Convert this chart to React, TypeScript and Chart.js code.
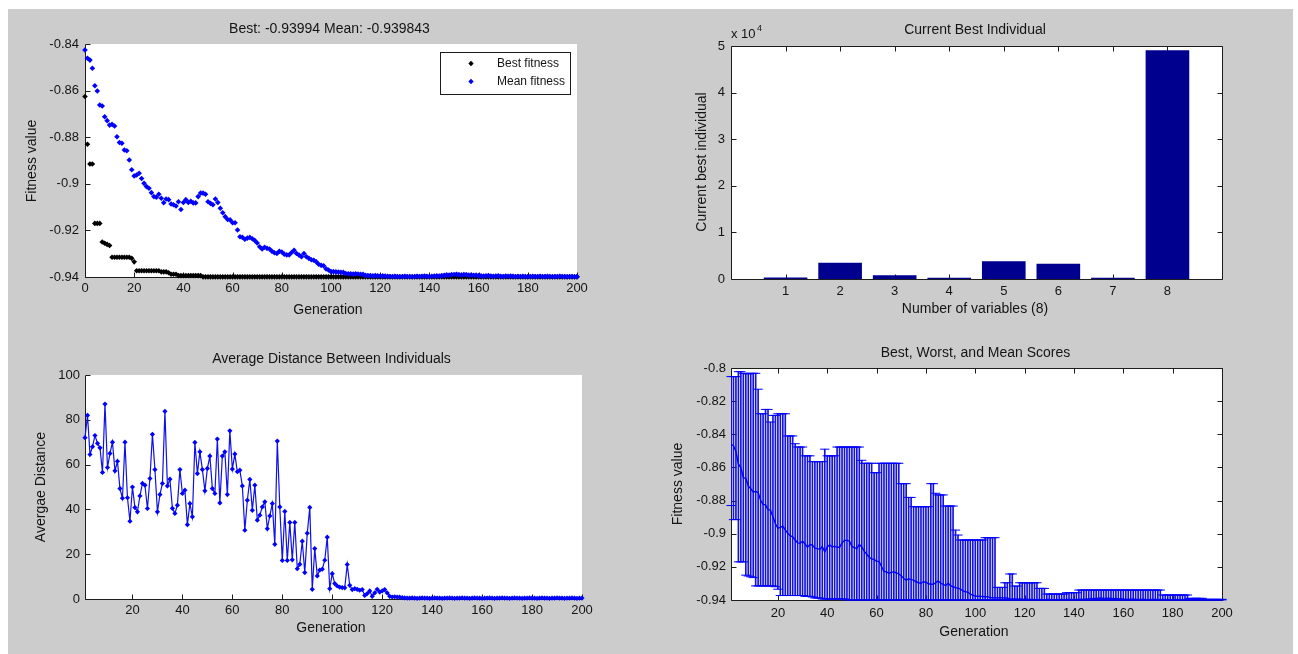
import React, { useEffect, useRef } from 'react';
import { Chart, registerables } from 'chart.js';

Chart.register(...registerables);

const W = 1298;
const H = 654;
const FONT = "'Liberation Sans', Arial, Helvetica, sans-serif";
const TEXT_COLOR = '#141414';
const AXIS_COLOR = '#1c1c1c';
const BLUE = '#0000ff';
const NAVY = '#00008f';
const FIG_BG = '#cccccc';
const Y_AXIS_W = 60;
const X_AXIS_H = 26;
const TICK_LEN = 5;

// ---------------- data ----------------
// Best fitness per generation (generation 0 .. 200)
const bestFitness = [
  -0.8625, -0.883, -0.8915, -0.8915, -0.917, -0.917, -0.917, -0.925, -0.9255, -0.926,
  -0.9265, -0.9315, -0.9315, -0.9315, -0.9315, -0.9315, -0.9315, -0.9315, -0.9315, -0.932,
  -0.9335, -0.9373, -0.9373, -0.9373, -0.9373, -0.9373, -0.9373, -0.9373, -0.9373, -0.9373,
  -0.9373, -0.9378, -0.9378, -0.9378, -0.9382, -0.9388, -0.9388, -0.9388, -0.9394, -0.9394,
  -0.9394, -0.9394, -0.9394, -0.9394, -0.9394, -0.9394, -0.9394, -0.9394, -0.93994, -0.93994,
  -0.93994, -0.93994, -0.93994, -0.93994, -0.93994, -0.93994, -0.93994, -0.93994, -0.93994, -0.93994,
  -0.93994, -0.93994, -0.93994, -0.93994, -0.93994, -0.93994, -0.93994, -0.93994, -0.93994, -0.93994,
  -0.93994, -0.93994, -0.93994, -0.93994, -0.93994, -0.93994, -0.93994, -0.93994, -0.93994, -0.93994,
  -0.93994, -0.93994, -0.93994, -0.93994, -0.93994, -0.93994, -0.93994, -0.93994, -0.93994, -0.93994,
  -0.93994, -0.93994, -0.93994, -0.93994, -0.93994, -0.93994, -0.93994, -0.93994, -0.93994, -0.93994,
  -0.93994, -0.93994, -0.93994, -0.93994, -0.93994, -0.93994, -0.93994, -0.93994, -0.93994, -0.93994,
  -0.93994, -0.93994, -0.93994, -0.93994, -0.93994, -0.93994, -0.93994, -0.93994, -0.93994, -0.93994,
  -0.93994, -0.93994, -0.93994, -0.93994, -0.93994, -0.93994, -0.93994, -0.93994, -0.93994, -0.93994,
  -0.93994, -0.93994, -0.93994, -0.93994, -0.93994, -0.93994, -0.93994, -0.93994, -0.93994, -0.93994,
  -0.93994, -0.93994, -0.93994, -0.93994, -0.93994, -0.93994, -0.93994, -0.93994, -0.93994, -0.93994,
  -0.93994, -0.93994, -0.93994, -0.93994, -0.93994, -0.93994, -0.93994, -0.93994, -0.93994, -0.93994,
  -0.93994, -0.93994, -0.93994, -0.93994, -0.93994, -0.93994, -0.93994, -0.93994, -0.93994, -0.93994,
  -0.93994, -0.93994, -0.93994, -0.93994, -0.93994, -0.93994, -0.93994, -0.93994, -0.93994, -0.93994,
  -0.93994, -0.93994, -0.93994, -0.93994, -0.93994, -0.93994, -0.93994, -0.93994, -0.93994, -0.93994,
  -0.93994, -0.93994, -0.93994, -0.93994, -0.93994, -0.93994, -0.93994, -0.93994, -0.93994, -0.93994,
  -0.93994,
];

// Mean fitness per generation (generation 0 .. 200)
const meanFitness = [
  -0.8426, -0.8461, -0.8469, -0.8504, -0.8579, -0.8602, -0.8662, -0.8666, -0.8712, -0.8729,
  -0.8748, -0.8745, -0.8752, -0.8798, -0.8823, -0.8826, -0.8855, -0.8858, -0.8898, -0.894,
  -0.8966, -0.8962, -0.8955, -0.8977, -0.8998, -0.9012, -0.9019, -0.9038, -0.9055, -0.9058,
  -0.9045, -0.9062, -0.9081, -0.9065, -0.9068, -0.9087, -0.909, -0.9095, -0.9077, -0.911,
  -0.908, -0.9068, -0.908, -0.9075, -0.9082, -0.9082, -0.9055, -0.904, -0.904, -0.9045,
  -0.9077, -0.9084, -0.909, -0.9065, -0.908, -0.9105, -0.9124, -0.9141, -0.9153, -0.9155,
  -0.9167, -0.9167, -0.9198, -0.9227, -0.923, -0.9238, -0.9233, -0.923, -0.9236, -0.9243,
  -0.9254, -0.927, -0.928, -0.9272, -0.9277, -0.928, -0.929, -0.9296, -0.9299, -0.929,
  -0.9293, -0.9302, -0.9305, -0.9305, -0.9295, -0.9285, -0.9299, -0.9306, -0.9313, -0.9299,
  -0.9313, -0.932, -0.9326, -0.9328, -0.9335, -0.9345, -0.935, -0.9352, -0.9365, -0.937,
  -0.9377, -0.9377, -0.9378, -0.9379, -0.938, -0.938, -0.9385, -0.9386, -0.9386, -0.9387,
  -0.9386, -0.9387, -0.9388, -0.9388, -0.9393, -0.9394, -0.9394, -0.9395, -0.9394, -0.9395,
  -0.9396, -0.9395, -0.9396, -0.9397, -0.9398, -0.9398, -0.9397, -0.9398, -0.9399, -0.9398,
  -0.9397, -0.9398, -0.9398, -0.9399, -0.9398, -0.9397, -0.9398, -0.9397, -0.9396, -0.9397,
  -0.9398, -0.9397, -0.9396, -0.9395, -0.9396, -0.9394, -0.9393, -0.9391, -0.9392, -0.939,
  -0.9389, -0.9388, -0.939, -0.9391, -0.9389, -0.939, -0.9392, -0.9391, -0.9393, -0.9392,
  -0.9394, -0.9395, -0.9396, -0.9395, -0.9394, -0.9396, -0.9397, -0.9396, -0.9395, -0.9397,
  -0.9398, -0.9396, -0.9397, -0.9396, -0.9397, -0.9398, -0.9397, -0.9398, -0.9397, -0.9398,
  -0.9399, -0.9398, -0.9397, -0.9398, -0.9398, -0.9397, -0.9398, -0.9398, -0.9397, -0.9398,
  -0.9399, -0.9398, -0.9398, -0.9397, -0.9398, -0.9398, -0.9399, -0.9398, -0.9398, -0.9399,
  -0.939843,
];

// Average distance between individuals (generation 1 .. 200)
const avgDistance = [
  72, 82, 64.5, 68, 73, 69.5, 67.5, 56.5, 87, 58.7,
  65, 70, 57.2, 61.5, 49.3, 45, 70, 45.2, 34.7, 50,
  40.8, 38.9, 46, 51.6, 50.8, 40.4, 53.8, 73.5, 57.8, 38.9,
  46.6, 51.6, 83.8, 50.5, 53.5, 40.5, 38.2, 41.9, 57.8, 47.1,
  48.6, 33.2, 42.6, 36.7, 69.9, 56, 65.7, 57.8, 48.3, 58.3,
  63.8, 49.3, 47.1, 71.4, 42.9, 63.8, 65.7, 46.6, 75.1, 58,
  64.7, 56.8, 57.5, 50.5, 30.7, 44.1, 53.4, 39.6, 50.8, 35.2,
  37.4, 41.1, 43.4, 31.4, 37.1, 42.6, 24.4, 70.5, 41.1, 17.2,
  39.1, 17.2, 34.2, 17.5, 34.2, 13.5, 15.5, 25.8, 11.8, 29.4,
  40.9, 4.3, 22.5, 10.3, 12.9, 13.3, 17.3, 27.6, 4.6, 11.3,
  6.9, 5.8, 5.3, 5.1, 5.0, 15.4, 6.1, 4.2, 4.6, 4.3,
  3.9, 4.2, 1.6, 2.4, 3.6, 1.2, 2.7, 4.3, 3.1, 3.6,
  4.2, 2.7, 1.2, 0.9, 1.0, 0.9, 0.8, 0.6, 0.5, 0.4,
  0.4, 0.5, 0.4, 0.3, 0.4, 0.5, 0.4, 0.4, 0.3, 0.4,
  0.5, 0.4, 0.4, 0.3, 0.4, 0.4, 0.5, 0.4, 0.3, 0.4,
  0.4, 0.5, 0.4, 0.4, 0.3, 0.4, 0.5, 0.4, 0.4, 0.3,
  0.4, 0.4, 0.5, 0.4, 0.3, 0.4, 0.4, 0.5, 0.4, 0.4,
  0.3, 0.4, 0.5, 0.4, 0.4, 0.3, 0.4, 0.4, 0.5, 0.4,
  0.4, 0.3, 0.4, 0.5, 0.4, 0.4, 0.3, 0.4, 0.4, 0.5,
  0.4, 0.4, 0.3, 0.4, 0.4, 0.5, 0.4, 0.3, 0.4, 0.4,
];

// Worst score per generation (generation 1 .. 200)
const worstScores = [
  -0.8052, -0.8052, -0.8052, -0.8022, -0.8022, -0.8032, -0.8032, -0.8036, -0.8032, -0.8032,
  -0.8032, -0.8128, -0.8276, -0.8276, -0.825, -0.825, -0.8326, -0.8286, -0.8286, -0.8276,
  -0.8276, -0.8276, -0.8276, -0.841, -0.841, -0.841, -0.8457, -0.8477, -0.8477, -0.8477,
  -0.853, -0.853, -0.853, -0.8565, -0.8565, -0.8565, -0.8565, -0.8565, -0.849, -0.853,
  -0.853, -0.853, -0.853, -0.8477, -0.8477, -0.8477, -0.8477, -0.8477, -0.8477, -0.8477,
  -0.8477, -0.8477, -0.8477, -0.8557, -0.8575, -0.8575, -0.8575, -0.8575, -0.8632, -0.8632,
  -0.8575, -0.8575, -0.8575, -0.8575, -0.8575, -0.8575, -0.8575, -0.8575, -0.8575, -0.8698,
  -0.8698, -0.8698, -0.8781, -0.8781, -0.8837, -0.8837, -0.8837, -0.8837, -0.8837, -0.8837,
  -0.8837, -0.8698, -0.8698, -0.8756, -0.8766, -0.8766, -0.8766, -0.8833, -0.8833, -0.8833,
  -0.8833, -0.8978, -0.9008, -0.9038, -0.9038, -0.9038, -0.9038, -0.9038, -0.9038, -0.9038,
  -0.9038, -0.9038, -0.9038, -0.9024, -0.9024, -0.9024, -0.9024, -0.9024, -0.9324, -0.9324,
  -0.9324, -0.9296, -0.9296, -0.9243, -0.9243, -0.9316, -0.9316, -0.9296, -0.9296, -0.9296,
  -0.9296, -0.9296, -0.9296, -0.9296, -0.9296, -0.933, -0.933, -0.933, -0.9364, -0.9364,
  -0.9364, -0.9364, -0.9364, -0.9364, -0.9364, -0.9364, -0.9356, -0.9356, -0.9356, -0.9356,
  -0.9356, -0.934, -0.934, -0.934, -0.934, -0.934, -0.934, -0.934, -0.934, -0.934,
  -0.934, -0.934, -0.934, -0.934, -0.934, -0.934, -0.934, -0.934, -0.934, -0.934,
  -0.934, -0.934, -0.934, -0.934, -0.934, -0.934, -0.934, -0.934, -0.934, -0.934,
  -0.934, -0.934, -0.934, -0.934, -0.934, -0.937, -0.937, -0.937, -0.937, -0.937,
  -0.937, -0.937, -0.937, -0.937, -0.937, -0.937, -0.939, -0.939, -0.939, -0.939,
  -0.939, -0.939, -0.9396, -0.9396, -0.9396, -0.9396, -0.9396, -0.9396, -0.9396, -0.9396,
];

// Current best individual
const variableNumbers = [1, 2, 3, 4, 5, 6, 7, 8];
const currentBestIndividual = [300, 3500, 790, 260, 3790, 3290, 280, 49070];

// Tick values
const generationTicksTop = [0, 20, 40, 60, 80, 100, 120, 140, 160, 180, 200];
const generationTicks = [20, 40, 60, 80, 100, 120, 140, 160, 180, 200];
const fitnessTicksTop = [-0.94, -0.92, -0.9, -0.88, -0.86, -0.84];
const scoreTicks = [-0.94, -0.92, -0.9, -0.88, -0.86, -0.84, -0.82, -0.8];
const distanceTicks = [0, 20, 40, 60, 80, 100];
const individualTicks = [0, 10000, 20000, 30000, 40000, 50000];

// ---------------- helpers ----------------
const fmtNum = (v: number) => String(Number(Number(v).toFixed(4)));
const fmtExp4 = (v: number) => String(Number((Number(v) / 10000).toFixed(4)));

type Area = { left: number; top: number; right: number; bottom: number };

function linAxis(min: number, max: number, ticks: number[], fmt: (v: number) => string, isX: boolean, pad: number) {
  return {
    type: 'linear',
    min,
    max,
    offset: false,
    beginAtZero: false,
    grid: { display: false, drawTicks: false },
    border: { display: false },
    ticks: {
      color: TEXT_COLOR,
      font: { family: FONT, size: 13 },
      padding: pad,
      autoSkip: false,
      maxRotation: 0,
      minRotation: 0,
      callback: (v: any) => fmt(Number(v)),
    },
    afterBuildTicks: (s: any) => {
      s.ticks = ticks.map((v) => ({ value: v }));
    },
    afterFit: (s: any) => {
      if (isX) s.height = X_AXIS_H;
      else s.width = Y_AXIS_W;
    },
  };
}

function layoutFor(a: Area) {
  return {
    padding: {
      left: a.left - Y_AXIS_W,
      top: a.top,
      right: W - a.right,
      bottom: H - a.bottom - X_AXIS_H,
    },
  };
}

type Legend = { x: number; y: number; w: number; h: number; items: { label: string; color: string; y: number }[]; markerX: number; textX: number };
type Decor = {
  box: boolean;
  title: string;
  titlePos: [number, number];
  xLabel: string;
  xLabelPos: [number, number];
  yLabel: string;
  yLabelPos: [number, number];
  legend?: Legend;
  exponent?: [number, number];
};

function diamond(ctx: CanvasRenderingContext2D, x: number, y: number, r: number, color: string) {
  ctx.beginPath();
  ctx.moveTo(x - r, y);
  ctx.lineTo(x, y - r);
  ctx.lineTo(x + r, y);
  ctx.lineTo(x, y + r);
  ctx.closePath();
  ctx.fillStyle = color;
  ctx.fill();
}

function decorPlugin(d: Decor) {
  return {
    id: 'matlabDecor',
    beforeDraw(chart: any) {
      const { ctx, chartArea: a } = chart;
      ctx.save();
      ctx.fillStyle = '#ffffff';
      ctx.fillRect(a.left, a.top, a.right - a.left, a.bottom - a.top);
      ctx.restore();
    },
    beforeDatasetsDraw(chart: any) {
      const { ctx, chartArea: a, scales } = chart;
      const xs = scales.x;
      const ys = scales.y;
      const L = a.left + 0.5;
      const B = a.bottom + 0.5;
      const T = a.top + 0.5;
      const R = a.right + 0.5;
      ctx.save();
      ctx.strokeStyle = AXIS_COLOR;
      ctx.lineWidth = 1;
      ctx.beginPath();
      ctx.moveTo(L, T);
      ctx.lineTo(L, B);
      ctx.lineTo(R, B);
      if (d.box) {
        ctx.lineTo(R, T);
        ctx.lineTo(L, T);
      }
      for (const t of xs.ticks) {
        const px = Math.round(xs.getPixelForValue(t.value)) + 0.5;
        ctx.moveTo(px, B);
        ctx.lineTo(px, B - TICK_LEN);
        if (d.box) {
          ctx.moveTo(px, T);
          ctx.lineTo(px, T + TICK_LEN);
        }
      }
      for (const t of ys.ticks) {
        const py = Math.round(ys.getPixelForValue(t.value)) + 0.5;
        ctx.moveTo(L, py);
        ctx.lineTo(L + TICK_LEN, py);
        if (d.box) {
          ctx.moveTo(R, py);
          ctx.lineTo(R - TICK_LEN, py);
        }
      }
      ctx.stroke();
      ctx.restore();
    },
    afterDraw(chart: any) {
      const { ctx } = chart;
      ctx.save();
      ctx.fillStyle = TEXT_COLOR;
      ctx.font = `14px ${FONT}`;
      ctx.textAlign = 'center';
      ctx.textBaseline = 'middle';
      ctx.fillText(d.title, d.titlePos[0], d.titlePos[1]);
      ctx.fillText(d.xLabel, d.xLabelPos[0], d.xLabelPos[1]);
      ctx.save();
      ctx.translate(d.yLabelPos[0], d.yLabelPos[1]);
      ctx.rotate(-Math.PI / 2);
      ctx.fillText(d.yLabel, 0, 0);
      ctx.restore();

      if (d.exponent) {
        const [ex, ey] = d.exponent;
        ctx.textAlign = 'left';
        ctx.textBaseline = 'alphabetic';
        ctx.font = `13px ${FONT}`;
        ctx.fillText('x 10', ex, ey);
        const w = ctx.measureText('x 10').width;
        ctx.font = `9px ${FONT}`;
        ctx.fillText('4', ex + w + 1.5, ey - 7);
      }

      if (d.legend) {
        const lg = d.legend;
        ctx.fillStyle = '#ffffff';
        ctx.fillRect(lg.x, lg.y, lg.w, lg.h);
        ctx.strokeStyle = AXIS_COLOR;
        ctx.lineWidth = 1;
        ctx.strokeRect(lg.x + 0.5, lg.y + 0.5, lg.w, lg.h);
        ctx.font = `12px ${FONT}`;
        ctx.textAlign = 'left';
        ctx.textBaseline = 'middle';
        for (const it of lg.items) {
          diamond(ctx, lg.markerX, it.y, 2.7, it.color);
          ctx.fillStyle = TEXT_COLOR;
          ctx.fillText(it.label, lg.textX, it.y + 0.5);
        }
      }
      ctx.restore();
    },
  };
}

const baseOptions = (area: Area) => ({
  responsive: false,
  animation: false,
  devicePixelRatio: 1,
  events: [],
  layout: layoutFor(area),
  plugins: {
    legend: { display: false },
    title: { display: false },
    tooltip: { enabled: false },
  },
});

// ---------------- chart configs ----------------
function buildFitness() {
  const area = { left: 85, top: 44, right: 577, bottom: 277 };
  return {
    type: 'scatter',
    data: {
      datasets: [
        {
          label: 'Mean fitness',
          data: meanFitness.map((v, i) => ({ x: i, y: v })),
          pointStyle: 'rectRot',
          pointRadius: 2.8,
          pointBorderWidth: 0,
          pointBackgroundColor: BLUE,
          backgroundColor: BLUE,
          borderColor: BLUE,
          clip: 8,
          order: 0,
        },
        {
          label: 'Best fitness',
          data: bestFitness.map((v, i) => ({ x: i, y: v })),
          pointStyle: 'rectRot',
          pointRadius: 2.8,
          pointBorderWidth: 0,
          pointBackgroundColor: '#000000',
          backgroundColor: '#000000',
          borderColor: '#000000',
          clip: 8,
          order: 1,
        },
      ],
    },
    options: {
      ...baseOptions(area),
      scales: {
        x: linAxis(0, 200, generationTicksTop, fmtNum, true, 4),
        y: linAxis(-0.94, -0.84, fitnessTicksTop, fmtNum, false, 6),
      },
    },
    plugins: [
      decorPlugin({
        box: false,
        title: 'Best: -0.93994 Mean: -0.939843',
        titlePos: [329.5, 29],
        xLabel: 'Generation',
        xLabelPos: [328, 310],
        yLabel: 'Fitness value',
        yLabelPos: [32.5, 161],
        legend: {
          x: 440,
          y: 52,
          w: 130,
          h: 42,
          markerX: 471,
          textX: 497,
          items: [
            { label: 'Best fitness', color: '#000000', y: 63.5 },
            { label: 'Mean fitness', color: BLUE, y: 81.5 },
          ],
        },
      }),
    ],
  };
}

function buildIndividual() {
  const area = { left: 731, top: 46, right: 1222, bottom: 279 };
  return {
    type: 'bar',
    data: {
      datasets: [
        {
          data: variableNumbers.map((n, i) => ({ x: n, y: currentBestIndividual[i] })),
          backgroundColor: NAVY,
          borderWidth: 0,
          barPercentage: 0.8,
          categoryPercentage: 1,
        },
      ],
    },
    options: {
      ...baseOptions(area),
      scales: {
        x: linAxis(0, 9, variableNumbers, fmtNum, true, 5),
        y: linAxis(0, 50000, individualTicks, fmtExp4, false, 6),
      },
    },
    plugins: [
      decorPlugin({
        box: true,
        title: 'Current Best Individual',
        titlePos: [975, 30],
        xLabel: 'Number of variables (8)',
        xLabelPos: [975, 309],
        yLabel: 'Current best individual',
        yLabelPos: [702.5, 162],
        exponent: [731, 38],
      }),
    ],
  };
}

function buildDistance() {
  const area = { left: 85, top: 375, right: 582, bottom: 599 };
  return {
    type: 'line',
    data: {
      datasets: [
        {
          data: avgDistance.map((v, i) => ({ x: i + 1, y: v })),
          borderColor: '#1010e8',
          borderWidth: 1.2,
          tension: 0,
          pointStyle: 'rectRot',
          pointRadius: 2.6,
          pointBorderWidth: 0,
          pointBackgroundColor: BLUE,
          clip: 8,
        },
      ],
    },
    options: {
      ...baseOptions(area),
      scales: {
        x: linAxis(1, 200, generationTicks, fmtNum, true, 4),
        y: linAxis(0, 100, distanceTicks, fmtNum, false, 5),
      },
    },
    plugins: [
      decorPlugin({
        box: false,
        title: 'Average Distance Between Individuals',
        titlePos: [331.5, 359.5],
        xLabel: 'Generation',
        xLabelPos: [331, 628],
        yLabel: 'Avergae Distance',
        yLabelPos: [41, 487],
      }),
    ],
  };
}

function buildScores() {
  const area = { left: 731, top: 368, right: 1222, bottom: 600 };
  return {
    type: 'bar',
    data: {
      datasets: [
        {
          type: 'line',
          data: worstScores.map((_, i) => ({ x: i + 1, y: meanFitness[i + 1] })),
          borderColor: BLUE,
          borderWidth: 1.4,
          pointRadius: 0,
          tension: 0,
          order: 0,
        },
        {
          type: 'scatter',
          data: worstScores.map((w, i) => ({ x: i + 1, y: w })),
          pointStyle: 'line',
          pointRadius: 4.6,
          pointBorderWidth: 1,
          pointBorderColor: BLUE,
          borderColor: BLUE,
          clip: 8,
          order: 1,
        },
        {
          type: 'scatter',
          data: worstScores.map((_, i) => ({ x: i + 1, y: bestFitness[i + 1] })),
          pointStyle: 'line',
          pointRadius: 4.6,
          pointBorderWidth: 1,
          pointBorderColor: BLUE,
          borderColor: BLUE,
          clip: 8,
          order: 1,
        },
        {
          type: 'bar',
          data: worstScores.map((w, i) => ({ x: i + 1, y: [bestFitness[i + 1], w] })),
          backgroundColor: '#1414d8',
          borderWidth: 0,
          barThickness: 1,
          order: 2,
        },
      ],
    },
    options: {
      ...baseOptions(area),
      scales: {
        x: linAxis(1, 200, generationTicks, fmtNum, true, 6),
        y: linAxis(-0.94, -0.8, scoreTicks, fmtNum, false, 5),
      },
    },
    plugins: [
      decorPlugin({
        box: true,
        title: 'Best, Worst, and Mean Scores',
        titlePos: [975.5, 353],
        xLabel: 'Generation',
        xLabelPos: [974, 632],
        yLabel: 'Fitness value',
        yLabelPos: [678, 484],
      }),
    ],
  };
}

// ---------------- components ----------------
function ChartLayer({ build }: { build: () => any }) {
  const ref = useRef<HTMLCanvasElement | null>(null);
  useEffect(() => {
    const chart = new Chart(ref.current as HTMLCanvasElement, build());
    return () => chart.destroy();
  }, [build]);
  return (
    <canvas
      ref={ref}
      width={W}
      height={H}
      style={{ position: 'absolute', left: 0, top: 0, width: W, height: H }}
    />
  );
}

export default function App() {
  return (
    <div
      style={{
        position: 'absolute',
        left: 0,
        top: 0,
        width: W,
        height: H,
        background: '#ffffff',
        overflow: 'hidden',
      }}
    >
      <div style={{ position: 'absolute', left: 8, top: 9, width: 1285, height: 645, background: FIG_BG }} />
      <ChartLayer build={buildFitness} />
      <ChartLayer build={buildIndividual} />
      <ChartLayer build={buildDistance} />
      <ChartLayer build={buildScores} />
    </div>
  );
}
